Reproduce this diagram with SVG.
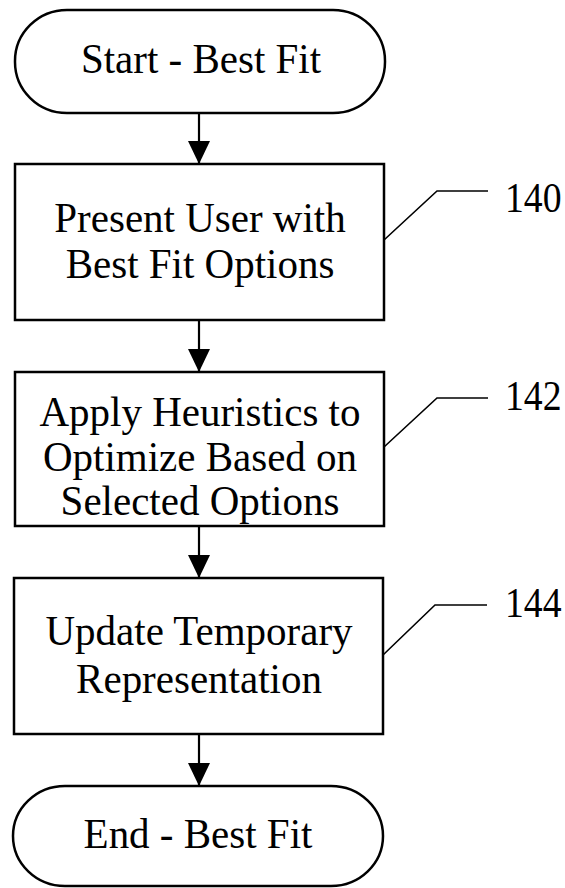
<svg xmlns="http://www.w3.org/2000/svg" width="565" height="888" viewBox="0 0 565 888">
  <style>
    .shape { fill: #ffffff; stroke: #000000; stroke-width: 2.5; }
    .label { font-family: "Liberation Serif", "Times New Roman", serif; font-size: 41px; fill: #000000; text-anchor: middle; }
    .ref { font-family: "Liberation Serif", "Times New Roman", serif; font-size: 41px; fill: #000000; text-anchor: start; }
    .conn { stroke: #000000; stroke-width: 2.2; fill: none; }
    .leader { stroke: #000000; stroke-width: 1.6; fill: none; }
  </style>
  <defs>
    <marker id="arrow" markerUnits="userSpaceOnUse" markerWidth="24" markerHeight="24" viewBox="0 0 24 24" refX="23" refY="12" orient="auto">
      <path d="M0,1 L23,12 L0,23 Z" fill="#000000"/>
    </marker>
  </defs>

  <rect x="0" y="0" width="565" height="888" fill="#ffffff"/>

  <g id="connectors">
    <line class="conn" x1="199" y1="113" x2="199" y2="164" marker-end="url(#arrow)"/>
    <line class="conn" x1="199" y1="320" x2="199" y2="372" marker-end="url(#arrow)"/>
    <line class="conn" x1="199" y1="526" x2="199" y2="578" marker-end="url(#arrow)"/>
    <line class="conn" x1="199" y1="734" x2="199" y2="786" marker-end="url(#arrow)"/>
    <polyline class="leader" points="384,240 437,191 488,191"/>
    <polyline class="leader" points="384,447 437,398 488,398"/>
    <polyline class="leader" points="383,655 435,605 487,605"/>
  </g>

  <g id="start">
    <rect class="shape" x="15" y="10" width="370" height="103" rx="52" ry="51"/>
    <text class="label" transform="translate(201,73) scale(1,1.05)">Start - Best Fit</text>
  </g>

  <g id="n140">
    <rect class="shape" x="15" y="164" width="369" height="156"/>
    <text class="label" transform="translate(200,232) scale(1,1.05)">Present User with</text>
    <text class="label" transform="translate(200,278) scale(1,1.05)">Best Fit Options</text>
    <text class="ref" transform="translate(505,212) scale(0.92,1.05)">140</text>
  </g>

  <g id="n142">
    <rect class="shape" x="15" y="372" width="369" height="154"/>
    <text class="label" transform="translate(200,426) scale(1,1.05)">Apply Heuristics to</text>
    <text class="label" transform="translate(200,470.5) scale(1,1.05)">Optimize Based on</text>
    <text class="label" transform="translate(200,515) scale(1,1.05)">Selected Options</text>
    <text class="ref" transform="translate(505,410) scale(0.92,1.05)">142</text>
  </g>

  <g id="n144">
    <rect class="shape" x="14" y="578" width="369" height="156"/>
    <text class="label" transform="translate(199,645) scale(1,1.05)">Update Temporary</text>
    <text class="label" transform="translate(199,693) scale(1,1.05)">Representation</text>
    <text class="ref" transform="translate(505,617) scale(0.92,1.05)">144</text>
  </g>

  <g id="end">
    <rect class="shape" x="13" y="786" width="370" height="100" rx="52" ry="50"/>
    <text class="label" transform="translate(198,848) scale(1,1.05)">End - Best Fit</text>
  </g>
</svg>
